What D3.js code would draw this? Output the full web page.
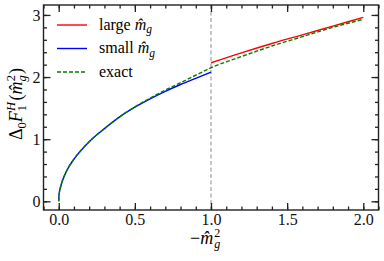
<!DOCTYPE html>
<html>
<head>
<meta charset="utf-8">
<script src="https://cdn.jsdelivr.net/npm/d3@7"></script>
<style>
    body { margin: 0; background: #fff; }
    svg, svg text, svg tspan { font-family: "Liberation Serif", "Times New Roman", serif !important; }
</style>
</head>
<body>
<svg class="grafico" font-family="Liberation Serif"></svg>
<script>
// values
let xExact = [0, 0.001, 0.003, 0.01, 0.02, 0.05, 0.1, 0.15, 0.2, 0.3, 0.4, 0.5, 0.6, 0.7, 0.8, 0.9, 1.0, 1.2, 1.4, 1.6, 1.8, 2.0];
let yExact = [0, 0.07, 0.12, 0.21, 0.30, 0.48, 0.68, 0.83, 0.96, 1.17, 1.36, 1.52, 1.66, 1.79, 1.91, 2.03, 2.15, 2.33, 2.50, 2.65, 2.80, 2.93];

let xSmall = [0, 0.001, 0.003, 0.01, 0.02, 0.05, 0.1, 0.15, 0.2, 0.3, 0.4, 0.5, 0.6, 0.7, 0.8, 0.9, 1.0];
let ySmall = [0, 0.07, 0.12, 0.21, 0.30, 0.48, 0.68, 0.83, 0.96, 1.17, 1.36, 1.515, 1.65, 1.77, 1.88, 1.98, 2.08];

let xLarge = [1.0, 1.2, 1.4, 1.6, 1.8, 2.0];
let yLarge = [2.23, 2.39, 2.54, 2.68, 2.82, 2.96];

let xTicks = [0, 0.5, 1.0, 1.5, 2.0];
let yTicks = [0, 1, 2, 3];
let xTickLabels = ["0.0", "0.5", "1.0", "1.5", "2.0"];
let yTickLabels = ["0", "1", "2", "3"];

let width = 384, height = 261;
let mLeft = 43.5, mRight = 378.5, mTop = 5, mBottom = 210;
let fontSerif = "'Liberation Serif', 'Times New Roman', serif";

let svg = d3.select(".grafico")
    .attr("width", width)
    .attr("height", height);

let x = d3.scaleLinear().domain([-0.1, 2.1]).range([mLeft, mRight]);
let y = d3.scaleLinear().domain([-0.14, 3.16]).range([mBottom, mTop]);

// vertical guide at 1.0
svg.append("line")
    .attr("x1", x(1)).attr("x2", x(1))
    .attr("y1", mTop).attr("y2", mBottom)
    .attr("stroke", "#a0a0a0")
    .attr("stroke-width", 1.2)
    .attr("stroke-dasharray", "4,2.5");

let line = d3.line()
    .x(d => x(d[0]))
    .y(d => y(d[1]))
    .curve(d3.curveMonotoneX);

let series = [
    { xs: xLarge, ys: yLarge, color: "#ff0000", dash: null },
    { xs: xSmall, ys: ySmall, color: "#0000ff", dash: null },
    { xs: xExact, ys: yExact, color: "#008000", dash: "4,2" }
];

series.forEach(s => {
    svg.append("path")
        .datum(s.xs.map((v, i) => [v, s.ys[i]]))
        .attr("d", line)
        .attr("fill", "none")
        .attr("stroke", s.color)
        .attr("stroke-width", 1.4)
        .attr("stroke-dasharray", s.dash);
});

// frame
svg.append("rect")
    .attr("x", mLeft).attr("y", mTop)
    .attr("width", mRight - mLeft).attr("height", mBottom - mTop)
    .attr("fill", "none")
    .attr("stroke", "#222")
    .attr("stroke-width", 1.4);

// ticks inward on all four sides
let xMinor = d3.range(-1, 22).map(i => i / 10).filter(v => v >= -0.1 && v <= 2.1);
let yMinor = d3.range(0, 16).map(i => i / 5);

let axisB = d3.axisBottom(x).tickValues(xMinor).tickSize(-3.5).tickFormat("");
let axisT = d3.axisTop(x).tickValues(xMinor).tickSize(-3.5).tickFormat("");
let axisL = d3.axisLeft(y).tickValues(yMinor).tickSize(-3.5).tickFormat("");
let axisR = d3.axisRight(y).tickValues(yMinor).tickSize(-3.5).tickFormat("");
let axisBM = d3.axisBottom(x).tickValues(xTicks).tickSize(-7).tickFormat((d, i) => xTickLabels[i]).tickPadding(3.5);
let axisTM = d3.axisTop(x).tickValues(xTicks).tickSize(-7).tickFormat("");
let axisLM = d3.axisLeft(y).tickValues(yTicks).tickSize(-7).tickFormat((d, i) => yTickLabels[i]).tickPadding(3);
let axisRM = d3.axisRight(y).tickValues(yTicks).tickSize(-7).tickFormat("");

[[axisB, mBottom], [axisBM, mBottom], [axisT, mTop], [axisTM, mTop]].forEach(a => {
    svg.append("g").attr("transform", `translate(0,${a[1]})`).call(a[0]);
});
[[axisL, mLeft], [axisLM, mLeft], [axisR, mRight], [axisRM, mRight]].forEach(a => {
    svg.append("g").attr("transform", `translate(${a[1]},0)`).call(a[0]);
});

svg.selectAll(".domain").remove();
svg.selectAll("g").attr("font-family", null);
svg.selectAll(".tick line").attr("stroke", "#222").attr("stroke-width", 1.3);
svg.selectAll(".tick text")
    .attr("font-size", 16)
    .attr("fill", "#111");

// legend
let legend = [
    { color: "#ff0000", dash: null, label: "large" },
    { color: "#0000ff", dash: null, label: "small" },
    { color: "#008000", dash: "4,2", label: "exact" }
];

let item = svg.selectAll(".leg")
    .data(legend)
    .enter()
    .append("g")
    .attr("class", "leg")
    .attr("transform", (d, i) => `translate(57, ${25 + i * 23.5})`);

item.append("line")
    .attr("x1", 0).attr("x2", 30)
    .attr("stroke", d => d.color)
    .attr("stroke-width", 1.4)
    .attr("stroke-dasharray", d => d.dash);

let lt = item.append("text")
    .attr("x", 42)
    .attr("y", 4.5)
    .attr("font-size", 16);
lt.append("tspan").text(d => d.label);
lt.filter((d, i) => i < 2).append("tspan").attr("dx", 4).attr("font-style", "italic").text("m\u0302");
lt.filter((d, i) => i < 2).append("tspan").attr("dy", 3.5).attr("font-size", 11.5).attr("font-style", "italic").text("g");

// y axis title
let yt = svg.append("text")
    .attr("transform", "translate(22, 104) rotate(-90)")
    .attr("text-anchor", "middle")
    .attr("font-size", 18);
yt.append("tspan").text("Δ");
yt.append("tspan").attr("dy", 4).attr("font-size", 12.5).text("0");
yt.append("tspan").attr("dy", -4).attr("font-style", "italic").text("F");
yt.append("tspan").attr("dy", 4).attr("font-size", 12.5).text("1");
yt.append("tspan").attr("dy", -11).attr("dx", -6).attr("font-size", 12.5).attr("font-style", "italic").text("H");
yt.append("tspan").attr("dy", 7).attr("dx", 1.5).text("(");
yt.append("tspan").attr("font-style", "italic").text("m\u0302");
yt.append("tspan").attr("dy", 4).attr("font-size", 12.5).attr("font-style", "italic").text("g");
yt.append("tspan").attr("dy", -11).attr("dx", -6).attr("font-size", 12.5).text("2");
yt.append("tspan").attr("dy", 7).attr("dx", 1).text(")");

// x axis title
let xt = svg.append("text")
    .attr("x", 190)
    .attr("y", 244)
    .attr("font-size", 18);
xt.append("tspan").text("\u2212");
xt.append("tspan").attr("font-style", "italic").text("m\u0302");
xt.append("tspan").attr("dy", -7.5).attr("dx", 1).attr("font-size", 12).text("2");
xt.append("tspan").attr("dy", 11.5).attr("dx", -6).attr("font-size", 12).attr("font-style", "italic").text("g");

svg.selectAll("text, tspan").style("font-family", fontSerif);
</script>
</body>
</html>
